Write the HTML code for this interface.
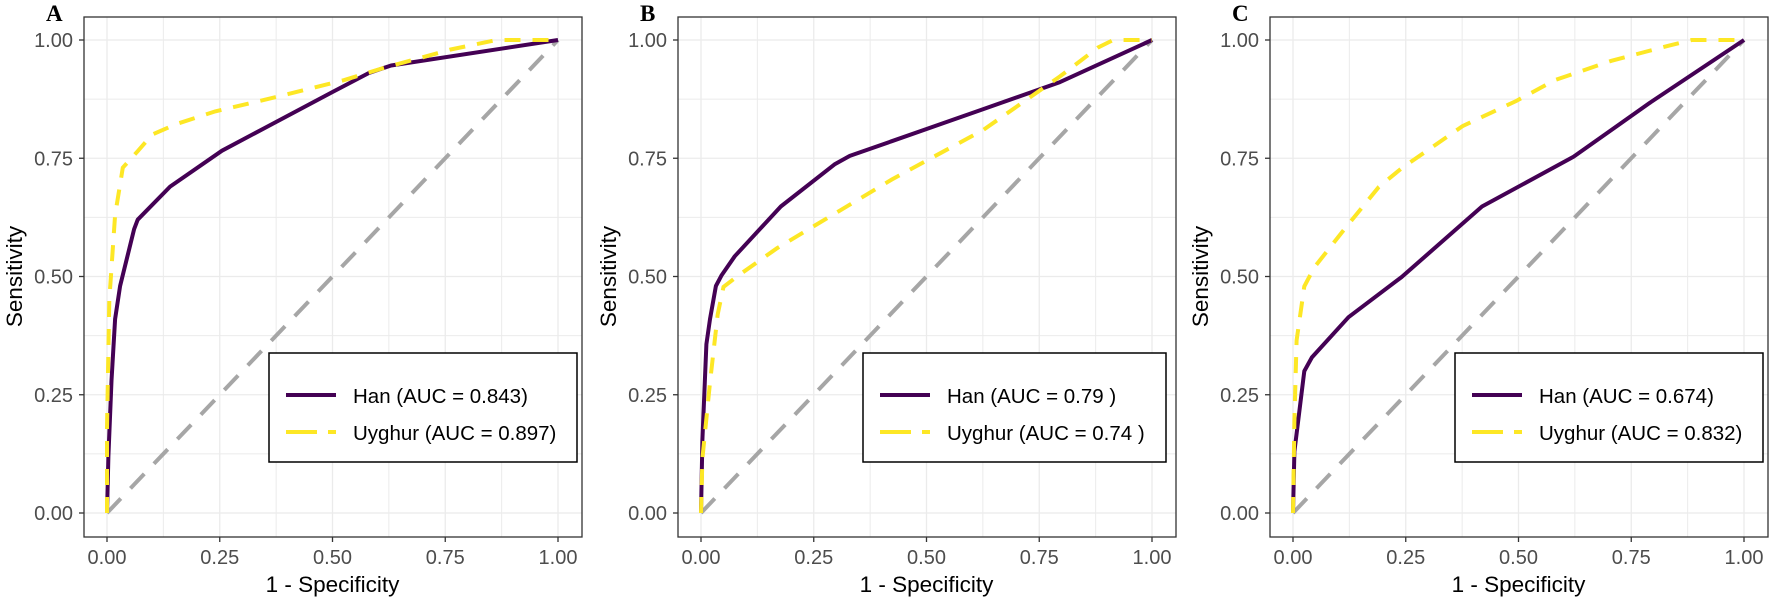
<!DOCTYPE html>
<html><head><meta charset="utf-8"><style>
html,body{margin:0;padding:0;background:#fff;}
svg{display:block;font-family:"Liberation Sans",Arial,sans-serif;}
</style></head><body>
<svg id="chart" width="1772" height="600" viewBox="0 0 1772 600" xmlns="http://www.w3.org/2000/svg"></svg>
<script>
const panelLabels = ["A","B","C"];
const panelLefts = [84, 678, 1270];
const xTicks = [0, 0.25, 0.5, 0.75, 1];
const yTicks = [0, 0.25, 0.5, 0.75, 1];
const tickLabels = ["0.00","0.25","0.50","0.75","1.00"];
const seriesNames = ["Han","Uyghur"];
const hanAuc = ["0.843","0.79 ","0.674"];
const uyAuc = ["0.897","0.74 ","0.832"];
const hanA_x = [0,0.003,0.01,0.018,0.029,0.06,0.068,0.14,0.255,0.5,0.58,0.63,1];
const hanA_y = [0,0.12,0.28,0.41,0.48,0.6,0.62,0.69,0.766,0.89,0.93,0.946,1];
const uyA_x = [0,0,0.005,0.018,0.035,0.068,0.1,0.153,0.24,0.356,0.525,0.61,0.762,0.864,1];
const uyA_y = [0,0.18,0.45,0.63,0.73,0.765,0.8,0.822,0.849,0.875,0.915,0.94,0.98,1,1];
const hanB_x = [0,0.003,0.012,0.02,0.033,0.046,0.075,0.177,0.296,0.33,0.423,0.626,0.796,1];
const hanB_y = [0,0.155,0.357,0.41,0.48,0.503,0.543,0.648,0.737,0.755,0.786,0.854,0.911,1];
const uyB_x = [0,0.003,0.02,0.037,0.05,0.084,0.169,0.253,0.423,0.626,0.796,0.88,0.914,1];
const uyB_y = [0,0.115,0.276,0.42,0.478,0.503,0.56,0.608,0.705,0.81,0.923,0.984,1,1];
const hanC_x = [0,0.003,0.025,0.042,0.123,0.241,0.419,0.622,0.791,1];
const hanC_y = [0,0.13,0.3,0.329,0.414,0.499,0.648,0.753,0.867,1];
const uyC_x = [0,0.003,0.008,0.025,0.047,0.114,0.19,0.241,0.376,0.495,0.58,0.706,0.833,0.884,0.994];
const uyC_y = [0,0.196,0.365,0.479,0.519,0.6,0.689,0.729,0.818,0.871,0.915,0.956,0.988,1,1];
const hanXs=[hanA_x,hanB_x,hanC_x], hanYs=[hanA_y,hanB_y,hanC_y];
const uyXs=[uyA_x,uyB_x,uyC_x], uyYs=[uyA_y,uyB_y,uyC_y];

const NS="http://www.w3.org/2000/svg";
const svg=document.getElementById('chart');
function mk(tag,attrs,parent){const e=document.createElementNS(NS,tag);for(const k in attrs)e.setAttribute(k,attrs[k]);(parent||svg).appendChild(e);return e;}
const TOP=17,BOT=537,Y0=513,Y1=40;
panelLefts.forEach((L,p)=>{
  const g=mk('g',{});
  
  
  const X0=L+23,X1=L+474,R=L+498;
  const sx=v=>X0+v*(X1-X0), sy=v=>Y0-v*(Y0-Y1);
  for(let i=0;i<=8;i++){
    const v=i/8;
    const gl=mk('line',{x1:sx(v),x2:sx(v),y1:TOP,y2:BOT,stroke:'#ebebeb','stroke-width':i%2?1:1.3},g);
    
    
    const gh=mk('line',{x1:L,x2:R,y1:sy(v),y2:sy(v),stroke:'#ebebeb','stroke-width':i%2?1:1.3},g);
    
    
  }
  const diag=mk('line',{x1:sx(0),y1:sy(0),x2:sx(1),y2:sy(1),stroke:'#a6a6a6','stroke-width':4,'stroke-dasharray':'20 14'},g);
  
  
  const pts=(xs,ys)=>xs.map((x,i)=>sx(x).toFixed(1)+','+sy(ys[i]).toFixed(1)).join(' ');
  const han=mk('polyline',{points:pts(hanXs[p],hanYs[p]),fill:'none',stroke:'#440154','stroke-width':4,'stroke-linejoin':'round'},g);
  
  
  const uy=mk('polyline',{points:pts(uyXs[p],uyYs[p]),fill:'none',stroke:'#FDE725','stroke-width':4,'stroke-dasharray':'16 12'},g);
  
  
  const frame=mk('rect',{x:L,y:TOP,width:R-L,height:BOT-TOP,fill:'none',stroke:'#333','stroke-width':1.3},g);
  
  
  xTicks.forEach((v,i)=>{
    mk('line',{x1:sx(v),x2:sx(v),y1:BOT,y2:BOT+5,stroke:'#333','stroke-width':1.3},g);
    const t=mk('text',{x:sx(v),y:564,'text-anchor':'middle','font-size':20,fill:'#4d4d4d'},g);
    t.textContent=tickLabels[i];
    
    
  });
  yTicks.forEach((v,i)=>{
    mk('line',{x1:L-5,x2:L,y1:sy(v),y2:sy(v),stroke:'#333','stroke-width':1.3},g);
    const t=mk('text',{x:L-11,y:sy(v)+7,'text-anchor':'end','font-size':20,fill:'#4d4d4d'},g);
    t.textContent=tickLabels[i];
    
    
  });
  const xt=mk('text',{x:(X0+X1)/2,y:592,'text-anchor':'middle','font-size':22.5,fill:'#000'},g);
  xt.textContent='1 - Specificity';
  
  
  const yt=mk('text',{x:0,y:0,'text-anchor':'middle','font-size':22.5,fill:'#000',transform:`translate(${L-62},${(Y0+Y1)/2}) rotate(-90)`},g);
  yt.textContent='Sensitivity';
  
  
  const pl=mk('text',{x:L-38,y:21,'font-size':23,'font-weight':'bold','font-family':'"Liberation Serif",serif',fill:'#000'},g);
  pl.textContent=panelLabels[p];
  
  
  const lg=mk('g',{},g);
  
  
  const lx=L+185, lw=(p===1?303:308);
  mk('rect',{x:lx,y:353,width:lw,height:109,fill:'#fff',stroke:'#000','stroke-width':1.5},lg);
  const e1=mk('line',{x1:lx+17,x2:lx+67,y1:395,y2:395,stroke:'#440154','stroke-width':4},lg);
  
  
  const e2=mk('line',{x1:lx+17,x2:lx+67,y1:432,y2:432,stroke:'#FDE725','stroke-width':4,'stroke-dasharray':'31 11'},lg);
  
  
  const t1=mk('text',{x:lx+84,y:403,'font-size':20.5,fill:'#000','xml:space':'preserve'},lg);
  t1.textContent=seriesNames[0]+' (AUC = '+hanAuc[p]+')';
  
  
  const t2=mk('text',{x:lx+84,y:440,'font-size':20.5,fill:'#000','xml:space':'preserve'},lg);
  t2.textContent=seriesNames[1]+' (AUC = '+uyAuc[p]+')';
  
  
});
</script>
</body></html>
